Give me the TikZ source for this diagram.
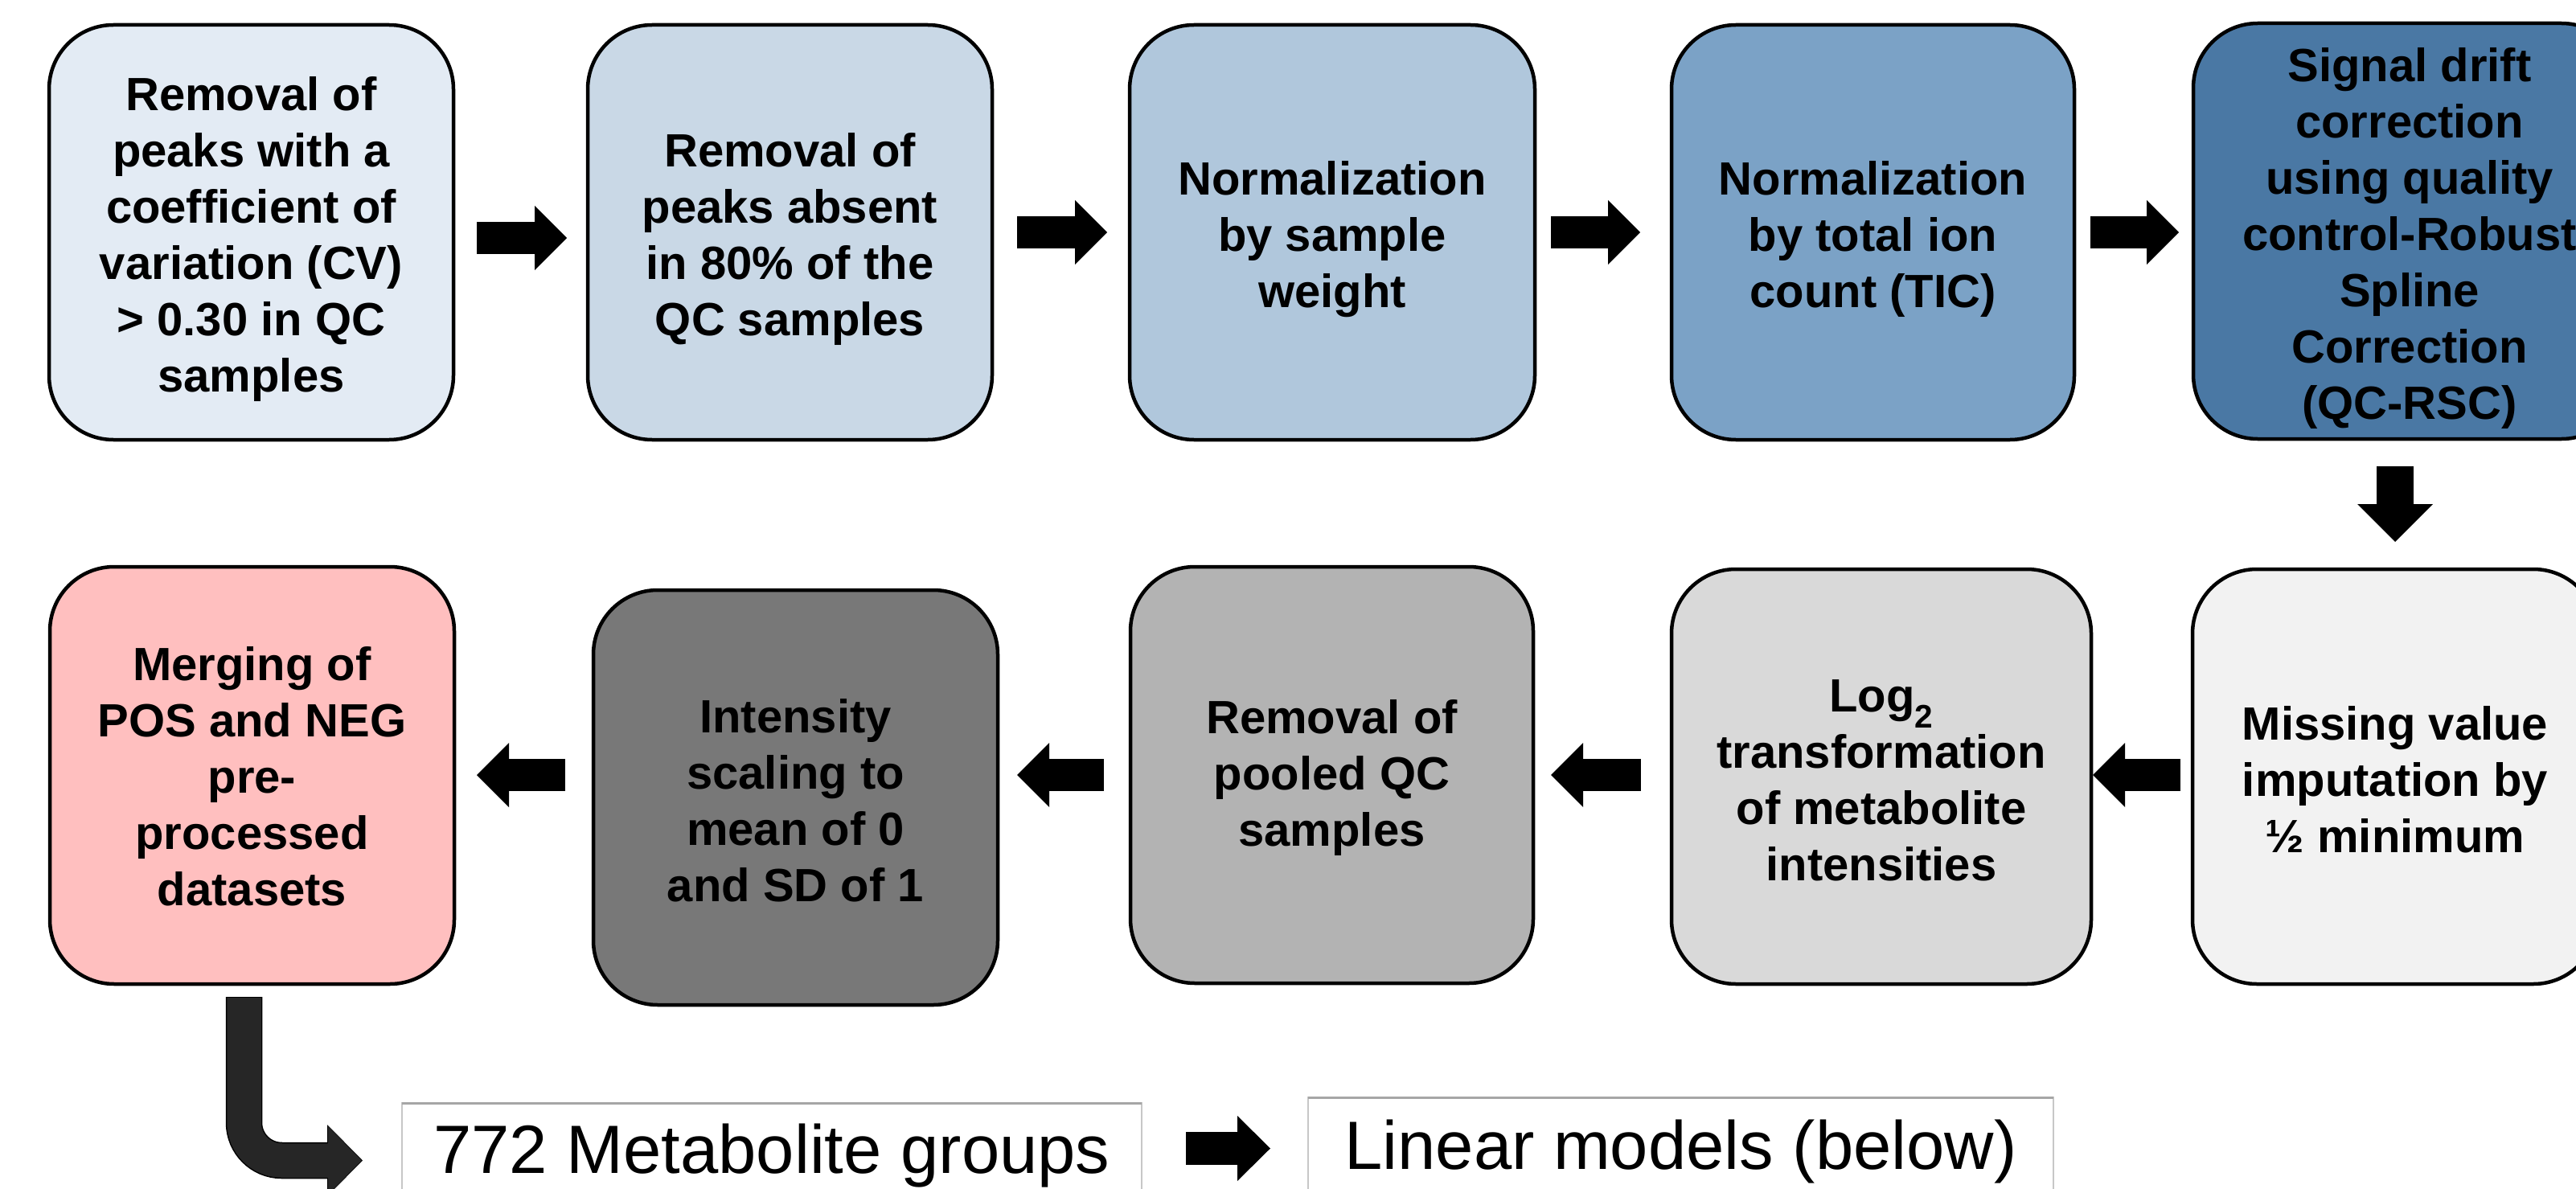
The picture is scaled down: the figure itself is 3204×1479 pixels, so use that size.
\documentclass[tikz,border=0pt]{standalone}
\usepackage{fontspec}
\setmainfont{Liberation Sans}
\usetikzlibrary{arrows.meta}
\definecolor{cA}{HTML}{E3EBF4}
\definecolor{cB}{HTML}{C9D8E6}
\definecolor{cC}{HTML}{B0C7DC}
\definecolor{cD}{HTML}{7BA2C6}
\definecolor{cE}{HTML}{4A78A4}
\definecolor{cF}{HTML}{FFBFBF}
\definecolor{cG}{HTML}{787878}
\definecolor{cH}{HTML}{B3B3B3}
\definecolor{cI}{HTML}{D9D9D9}
\definecolor{cJ}{HTML}{F2F2F2}
\definecolor{bentcol}{HTML}{262626}
\newcommand{\toprowstrut}{\rule{0pt}{60pt}}
\newcommand{\botrowstrut}{\rule{0pt}{50pt}}
\tikzset{
  stepbox/.style={draw=black, line width=4.5pt, rounded corners=80pt, outer sep=0pt,
    inner sep=0pt, align=center, font=\bfseries\fontsize{58}{70}\selectfont},
  plainbox/.style={draw=black!22, line width=2pt, fill=white, outer sep=0pt, inner sep=0pt,
    anchor=north west, font=\fontsize{85}{100}\selectfont},
  bigarrow/.style={line width=40pt, -{Triangle[width=80pt,length=40pt,line width=0pt]}},
  downarrow/.style={line width=46pt, -{Triangle[width=94pt,length=47pt,line width=0pt]}},
}
\begin{document}
\begin{tikzpicture}[x=1pt,y=-1pt]
\useasboundingbox (0,0) rectangle (3204,1479);
\clip (0,0) rectangle (3204,1479);
% top row
\node[stepbox, fill=cA, minimum width=503pt, minimum height=516pt] (b1) at (312.5,289)
  {\toprowstrut Removal of\\peaks with a\\coefficient of\\variation (CV)\\> 0.30 in QC\\samples};
\node[stepbox, fill=cB, minimum width=503pt, minimum height=516pt] (b2) at (982.5,289)
  {\toprowstrut Removal of\\peaks absent\\in 80\% of the\\QC samples};
\node[stepbox, fill=cC, minimum width=504pt, minimum height=516pt] (b3) at (1657,289)
  {\toprowstrut Normalization\\by sample\\weight};
\node[stepbox, fill=cD, minimum width=501pt, minimum height=516pt] (b4) at (2329.5,289)
  {\toprowstrut Normalization\\by total ion\\count (TIC)};
\node[stepbox, fill=cE, minimum width=538pt, minimum height=517pt] (b5) at (2997,287.5)
  {\toprowstrut Signal drift\\correction\\using quality\\control-Robust\\Spline\\Correction\\(QC-RSC)};
% bottom row
\node[stepbox, fill=cJ, minimum width=504pt, minimum height=516pt] (b10) at (2979,966)
  {\botrowstrut Missing value\\imputation by\\½ minimum};
\node[stepbox, fill=cI, minimum width=522pt, minimum height=516pt] (b9) at (2340,966)
  {\botrowstrut Log\textsubscript{2}\\transformation\\of metabolite\\intensities};
\node[stepbox, fill=cH, minimum width=501pt, minimum height=518pt] (b8) at (1656.5,964)
  {\botrowstrut Removal of\\pooled QC\\samples};
\node[stepbox, fill=cG, minimum width=503pt, minimum height=516pt] (b7) at (989.5,992)
  {\botrowstrut Intensity\\scaling to\\mean of 0\\and SD of 1};
\node[stepbox, fill=cF, minimum width=503pt, minimum height=519pt] (b6) at (313.5,964.5)
  {\rule{0pt}{45pt}Merging of\\POS and NEG\\pre-\\processed\\datasets};
% output boxes
\node[plainbox, minimum width=920pt, minimum height=132pt] (m772) at (500,1372) {772 Metabolite groups};
\node[plainbox, minimum width=927pt, minimum height=134pt] (lin) at (1627,1365) {Linear models (below)};
\draw[black!35, line width=3pt] (m772.north west) -- (m772.north east);
\draw[black!35, line width=3pt] (lin.north west) -- (lin.north east);
% top arrows
\draw[bigarrow] ([shift={(29,7)}]b1.east) -- ([shift={(-26,7)}]b2.west);
\draw[bigarrow] ([shift={(31,0)}]b2.east) -- ([shift={(-28,0)}]b3.west);
\draw[bigarrow] ([shift={(20,0)}]b3.east) -- ([shift={(-39,0)}]b4.west);
\draw[bigarrow] ([shift={(20,0)}]b4.east) -- ([shift={(-18,1.5)}]b5.west);
% down arrow
\draw[downarrow] ([shift={(-18,34)}]b5.south) -- ([shift={(0,-34)}]b10.north);
% bottom arrows (leftwards)
\draw[bigarrow] ([shift={(-15,-2)}]b10.west) -- ([shift={(2,-2)}]b9.east);
\draw[bigarrow] ([shift={(-38,-2)}]b9.west) -- ([shift={(22,0)}]b8.east);
\draw[bigarrow] ([shift={(-33,0)}]b8.west) -- ([shift={(24,-28)}]b7.east);
\draw[bigarrow] ([shift={(-35,-28)}]b7.west) -- ([shift={(28,-0.5)}]b6.east);
% bent arrow
\draw[black, line width=45.5pt, rounded corners=47pt, -{Triangle[width=89pt,length=44pt,line width=0pt]}]
  ([shift={(-10,16)}]b6.south) |- ([shift={(-49,5.5)}]m772.west);
\draw[bentcol, line width=42.5pt, rounded corners=47pt, -{Triangle[width=85pt,length=42pt,line width=0pt]}]
  ([shift={(-10,17)}]b6.south) |- ([shift={(-50,5.5)}]m772.west);
% arrow between output boxes
\draw[line width=41pt, -{Triangle[width=81pt,length=41pt,line width=0pt]}]
  ([shift={(55,-9.5)}]m772.east) -- ([shift={(-47,-3.5)}]lin.west);
\end{tikzpicture}
\end{document}
